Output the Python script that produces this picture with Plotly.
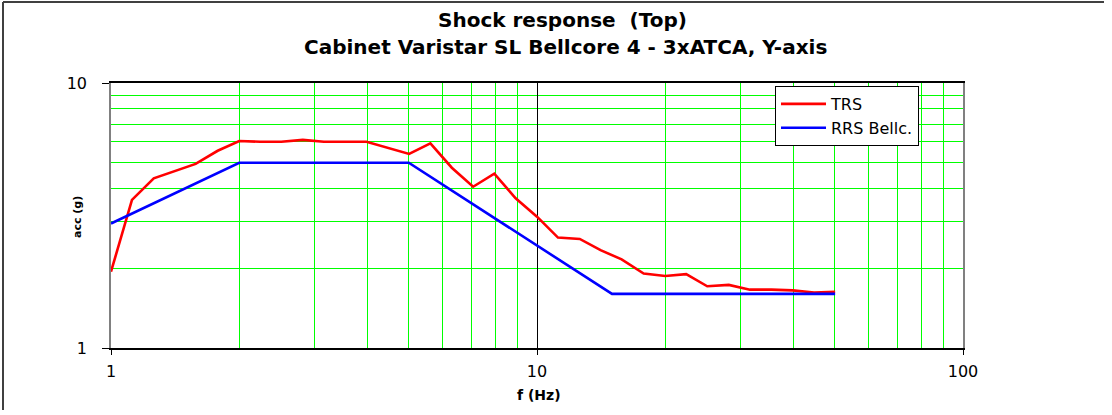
import plotly.graph_objects as go

# ---- data ----
freq_trs = [1.0, 1.12, 1.26, 1.41, 1.58, 1.78, 2.0, 2.24, 2.51, 2.82, 3.16, 3.98,
            5.01, 5.62, 6.31, 7.08, 7.94, 8.91, 10.0, 11.2, 12.6, 14.1, 15.8, 17.8,
            20.0, 22.4, 25.1, 28.2, 31.6, 35.5, 39.8, 44.7, 50.1]
trs_acc = [1.94, 3.62, 4.37, 4.66, 4.95, 5.55, 6.04, 6.0, 6.0, 6.1, 6.0, 6.0,
           5.40, 5.92, 4.79, 4.06, 4.55, 3.67, 3.13, 2.61, 2.58, 2.34, 2.16, 1.91,
           1.87, 1.90, 1.71, 1.73, 1.66, 1.66, 1.65, 1.62, 1.63]

freq_rrs = [1.0, 2.0, 5.0, 15.0, 50.1]
rrs_acc = [2.95, 5.0, 5.0, 1.6, 1.6]

series_names = ["TRS", "RRS Bellc."]
title_lines = ["Shock response  (Top)", "Cabinet Varistar SL Bellcore 4 - 3xATCA, Y-axis"]
x_title = "f (Hz)"
y_title = "acc (g)"

FONT = "DejaVu Sans, Arial, sans-serif"

fig = go.Figure()
fig.add_trace(go.Scatter(x=freq_trs, y=trs_acc, mode="lines", name=series_names[0],
                         line=dict(color="#FF0000", width=2.6)))
fig.add_trace(go.Scatter(x=freq_rrs, y=rrs_acc, mode="lines", name=series_names[1],
                         line=dict(color="#0000FF", width=2.6)))

W, H = 1104, 410
L, T = 111, 83
pw, ph = 852, 265
R = W - L - pw
B = H - T - ph

def px2paper_x(px):
    return (px - L) / pw

def px2paper_y(py):
    return (T + ph - py) / ph

frame = dict(color="#404040", width=2)

fig.update_layout(
    width=W, height=H,
    margin=dict(l=L, r=R, t=T, b=B, pad=0),
    paper_bgcolor="white", plot_bgcolor="white",
    font=dict(family=FONT, size=14, color="black"),
    showlegend=True,
    legend=dict(x=px2paper_x(775), y=px2paper_y(86), xanchor="left", yanchor="top",
                bgcolor="white", bordercolor="black", borderwidth=1,
                font=dict(family=FONT, size=16, color="black"),
                itemwidth=45, tracegroupgap=0),
    xaxis=dict(type="log", range=[0, 2], dtick=1,
               showgrid=True, gridcolor="black", gridwidth=1,
               minor=dict(dtick="D1", showgrid=True, gridcolor="#00FF00", gridwidth=1, ticks=""),
               showline=True, linecolor="black", linewidth=1.5, mirror=True,
               ticks="outside", ticklen=5, tickcolor="black",
               tickfont=dict(family=FONT, size=16), ticklabelstandoff=3,
               zeroline=False),
    yaxis=dict(type="log", range=[0, 1], dtick=1,
               showgrid=True, gridcolor="#808080",
               minor=dict(dtick="D1", showgrid=True, gridcolor="#00FF00", gridwidth=1, ticks=""),
               showline=True, linecolor="#808080", linewidth=1.5, mirror=True,
               ticks="outside", ticklen=7, tickcolor="black",
               tickfont=dict(family=FONT, size=16), ticklabelstandoff=12,
               zeroline=False),
    annotations=[
        dict(text="<b>%s</b>" % title_lines[0], xref="paper", yref="paper",
             x=px2paper_x(562), y=px2paper_y(20), xanchor="center", yanchor="middle",
             showarrow=False, font=dict(family=FONT, size=20, color="black")),
        dict(text="<b>%s</b>" % title_lines[1], xref="paper", yref="paper",
             x=px2paper_x(565), y=px2paper_y(47), xanchor="center", yanchor="middle",
             showarrow=False, font=dict(family=FONT, size=20, color="black")),
        dict(text="<b>%s</b>" % x_title, xref="paper", yref="paper",
             x=px2paper_x(539), y=px2paper_y(395), xanchor="center", yanchor="middle",
             showarrow=False, font=dict(family=FONT, size=14, color="black")),
        dict(text="<b>%s</b>" % y_title, xref="paper", yref="paper",
             x=px2paper_x(77), y=px2paper_y(217), xanchor="center", yanchor="middle",
             textangle=-90, showarrow=False, font=dict(family=FONT, size=11, color="black")),
    ],
    shapes=[
        dict(type="line", xref="paper", yref="paper",
             x0=px2paper_x(3), x1=px2paper_x(W), y0=px2paper_y(2), y1=px2paper_y(2),
             line=frame, layer="below"),
        dict(type="line", xref="paper", yref="paper",
             x0=px2paper_x(3), x1=px2paper_x(3), y0=px2paper_y(2), y1=px2paper_y(H),
             line=frame, layer="below"),
    ],
)

fig.write_html(
    "out.html",
    config={"displayModeBar": False},
    post_script=(
        "document.documentElement.style.margin='0';"
        "document.documentElement.style.overflow='hidden';"
        "document.body.style.margin='0';"
        "document.body.style.overflow='hidden';"
    ),
)
